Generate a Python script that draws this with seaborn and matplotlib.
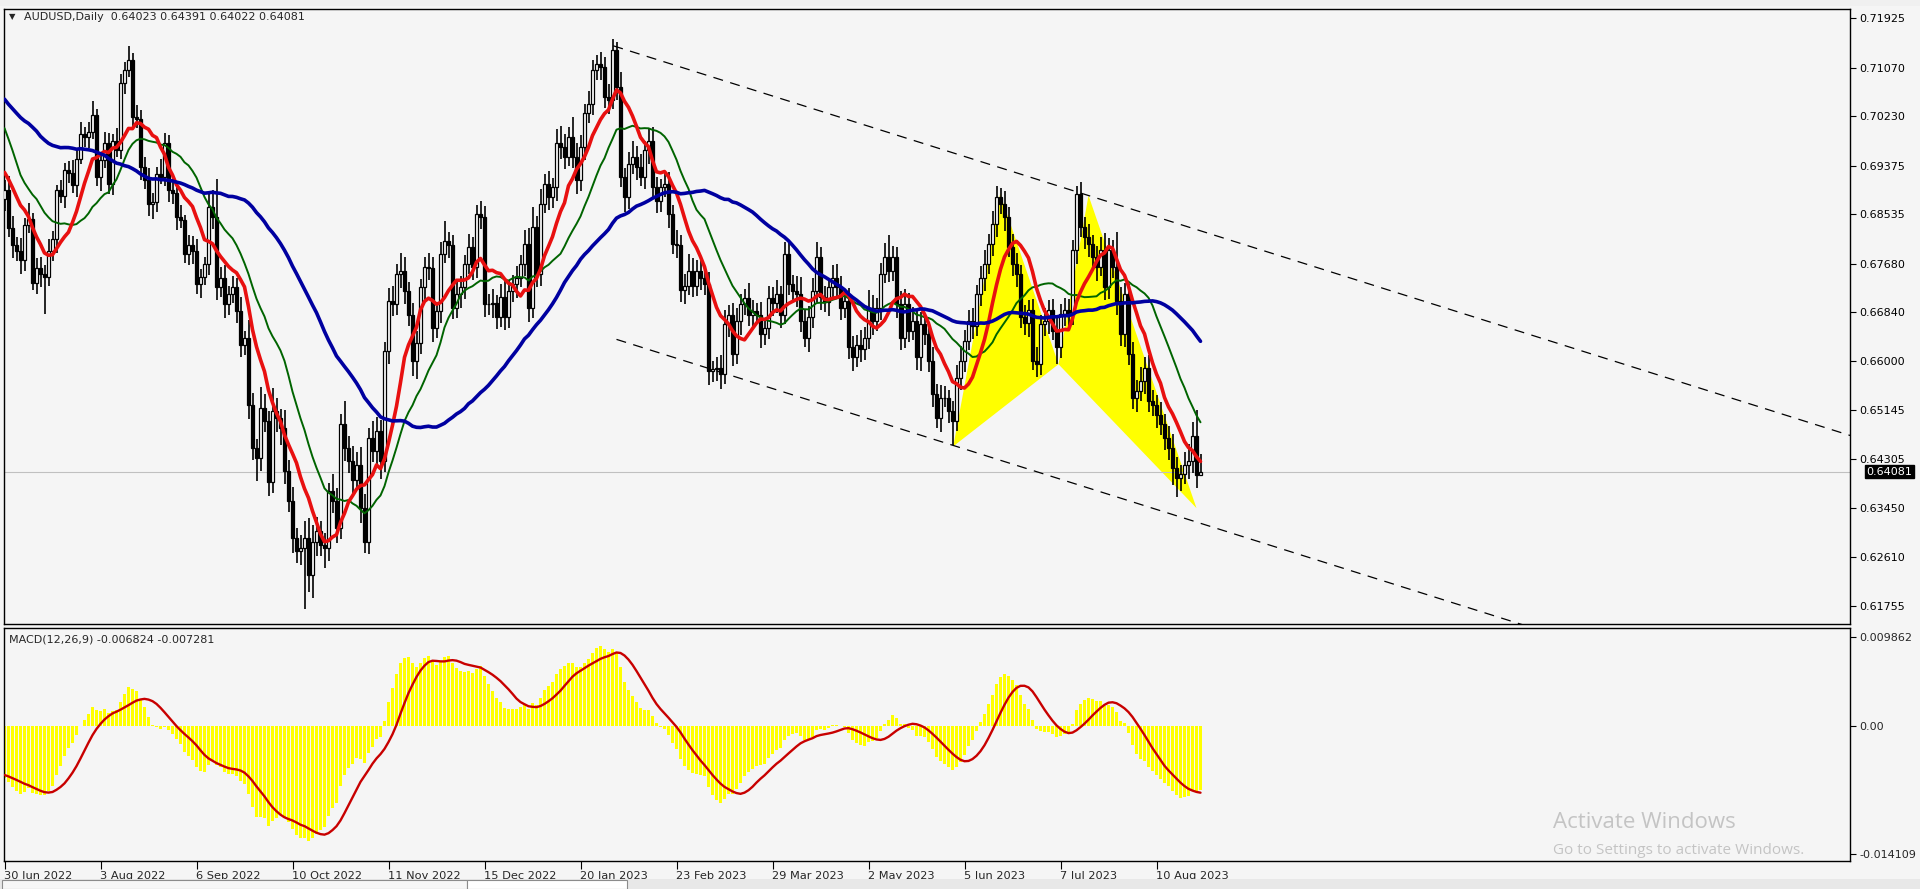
import numpy as np
import pandas as pd
import seaborn as sns
import matplotlib.pyplot as plt

# closes before the visible window (only feed the moving averages / MACD)
pre_closes = [0.7430, 0.7445, 0.7480, 0.7410, 0.7400, 0.7360, 0.7380, 0.7445, 0.7420, 0.7270,
              0.7190, 0.7170, 0.7150, 0.7130, 0.7065,
              0.7060, 0.7100, 0.7200, 0.7065, 0.7075, 0.6990, 0.7000, 0.6980, 0.6915, 0.6930,
              0.6960, 0.7035, 0.6950, 0.7035, 0.7040, 0.7095, 0.7060, 0.7080, 0.7110, 0.7165,
              0.7190, 0.7175,
              0.7160, 0.7240, 0.7205, 0.7195, 0.7220, 0.7195, 0.7105, 0.7055, 0.6935, 0.6910,
              0.6990, 0.6980, 0.6950, 0.6945, 0.6945, 0.6925, 0.6915, 0.6960, 0.6925, 0.6920,
              0.6880]

# daily closes, 30 Jun 2022 .. 25 Aug 2023
closes = [0.6895, 0.6830, 0.6800, 0.6790, 0.6775, 0.6835, 0.6845, 0.6735, 0.6760, 0.6750,
          0.6745, 0.6790, 0.6810, 0.6895, 0.6885, 0.6930, 0.6925, 0.6905, 0.6950, 0.6993,
          0.6988, 0.6995, 0.7025, 0.6918, 0.6947, 0.6976, 0.6906, 0.6981, 0.6964, 0.7080,
          0.7103, 0.7120, 0.7022, 0.7019, 0.6935, 0.6912, 0.6871, 0.6875, 0.6924, 0.6918,
          0.6976, 0.6895, 0.6890, 0.6848, 0.6843, 0.6785, 0.6800, 0.6790, 0.6733, 0.6745,
          0.6767, 0.6866, 0.6848, 0.6727, 0.6744, 0.6698, 0.6715, 0.6727, 0.6686, 0.6628,
          0.6640, 0.6524, 0.6449, 0.6432, 0.6519, 0.6495, 0.6391, 0.6513, 0.6501, 0.6484,
          0.6409, 0.6357, 0.6293, 0.6270, 0.6276, 0.6293, 0.6230, 0.6287, 0.6305, 0.6282,
          0.6276, 0.6374, 0.6357, 0.6310, 0.6490, 0.6449, 0.6426, 0.6394, 0.6420, 0.6345,
          0.6287, 0.6466, 0.6443, 0.6478, 0.6426, 0.6617, 0.6704, 0.6698, 0.6750, 0.6756,
          0.6721, 0.6680, 0.6599, 0.6630, 0.6727, 0.6762, 0.6760, 0.6657, 0.6686, 0.6785,
          0.6808, 0.6800, 0.6692, 0.6716, 0.6727, 0.6767, 0.6796, 0.6762, 0.6854, 0.6848,
          0.6698, 0.6698, 0.6700, 0.6675, 0.6710, 0.6675, 0.6721, 0.6733, 0.6744, 0.6767,
          0.6802, 0.6692, 0.6831, 0.6750, 0.6872, 0.6906, 0.6883, 0.6900, 0.6976, 0.6970,
          0.6953, 0.6987, 0.6953, 0.6912, 0.6970, 0.7028, 0.7045, 0.7103, 0.7114, 0.7108,
          0.7057, 0.7051, 0.7137, 0.7074, 0.6918, 0.6883, 0.6941, 0.6953, 0.6935, 0.6918,
          0.6964, 0.6981, 0.6900, 0.6877, 0.6900, 0.6906, 0.6854, 0.6802, 0.6800, 0.6722,
          0.6730, 0.6756, 0.6730, 0.6756, 0.6744, 0.6733, 0.6582, 0.6585, 0.6588, 0.6577,
          0.6663, 0.6680, 0.6611, 0.6669, 0.6698, 0.6709, 0.6680, 0.6686, 0.6680, 0.6646,
          0.6657, 0.6709, 0.6700, 0.6715, 0.6680, 0.6785, 0.6733, 0.6721, 0.6715, 0.6669,
          0.6640, 0.6675, 0.6721, 0.6779, 0.6710, 0.6702, 0.6727, 0.6744, 0.6727, 0.6692,
          0.6704, 0.6623, 0.6606, 0.6628, 0.6620, 0.6640, 0.6692, 0.6669, 0.6692, 0.6750,
          0.6779, 0.6756, 0.6779, 0.6698, 0.6640, 0.6698, 0.6652, 0.6669, 0.6606, 0.6663,
          0.6646, 0.6600, 0.6542, 0.6501, 0.6536, 0.6536, 0.6513, 0.6496, 0.6571, 0.6600,
          0.6634, 0.6669, 0.6660, 0.6715, 0.6744, 0.6767, 0.6802, 0.6837, 0.6883, 0.6872,
          0.6848, 0.6796, 0.6767, 0.6750, 0.6675, 0.6665, 0.6687, 0.6600, 0.6594, 0.6663,
          0.6669, 0.6687, 0.6652, 0.6623, 0.6681, 0.6687, 0.6680, 0.6791, 0.6889, 0.6831,
          0.6814, 0.6802, 0.6779, 0.6762, 0.6791, 0.6727, 0.6791, 0.6762, 0.6704, 0.6646,
          0.6715, 0.6611, 0.6536, 0.6547, 0.6565, 0.6588, 0.6530, 0.6524, 0.6507, 0.6490,
          0.6467, 0.6449, 0.6415, 0.6397, 0.6404, 0.6420, 0.6426, 0.6470, 0.6402, 0.64081]

# wick sizes in pips above / below the candle body
up_pips = [18, 25, 20, 15, 22, 12, 28, 10, 18, 20, 15, 20, 14, 10, 18, 12, 16, 22, 14, 20,
           12, 18, 24, 10, 15, 20, 18, 12, 22, 16, 14, 24, 12, 20, 15, 18, 22, 16, 12, 25,
           18, 15, 20, 14, 22, 10, 18, 16, 20, 14, 12, 26, 30, 67, 18, 22, 14, 20, 16, 25,
           12, 30, 20, 15, 35, 24, 18, 40, 22, 16, 30, 20, 25, 18, 22, 30, 35, 28, 24, 18,
           20, 15, 30, 22, 18, 40, 20, 26, 22, 30, 25, 18, 30, 24, 20, 15, 22, 26, 18, 30,
           24, 16, 20, 22, 14, 18, 25, 20, 16, 20, 34, 15, 18, 22, 20, 16, 24, 18, 15, 22,
           20, 18, 24, 14, 22, 30, 18, 15, 20, 16, 24, 28, 35, 20, 26, 18, 22, 16, 25, 30,
           22, 18, 35, 24, 20, 16, 22, 18, 15, 20, 18, 22, 20, 14, 25, 15, 20, 28, 18, 22,
           16, 20, 24, 18, 15, 22, 20, 16, 24, 18, 20, 28, 22, 18, 24, 16, 20, 15, 18, 22,
           24, 16, 20, 22, 18, 15, 26, 20, 14, 22, 16, 20, 18, 24, 15, 20, 22, 16, 25, 30,
           18, 20, 22, 26, 18, 20, 16, 22, 24, 20, 18, 22, 20, 16, 25, 18, 30, 22, 16, 20,
           24, 38, 20, 18, 22, 26, 20, 24, 18, 22, 20, 16, 24, 18, 22, 20, 14, 18, 22, 26,
           20, 18, 22, 16, 20, 24, 18, 22, 20, 16, 22, 18, 24, 20, 16, 22, 18, 20, 24, 16,
           22, 18, 20, 24, 18, 22, 20, 18, 14, 20, 18, 22, 16, 20, 24, 30, 22, 18, 60, 24,
           20, 18, 22, 20, 24, 18, 22, 20, 16, 22, 18, 20, 24, 18, 16, 22, 30, 24, 45, 31]
low_pips = [20, 15, 22, 18, 25, 20, 14, 12, 20, 22, 64, 15, 18, 24, 12, 20, 18, 15, 22, 10,
            18, 20, 12, 16, 25, 14, 18, 20, 12, 15, 18, 12, 20, 16, 22, 14, 20, 25, 18, 12,
            15, 20, 18, 22, 14, 16, 20, 22, 18, 25, 14, 18, 20, 22, 16, 24, 18, 15, 20, 22,
            18, 24, 20, 40, 22, 18, 25, 20, 24, 30, 22, 18, 25, 20, 24, 106, 30, 40, 24, 20,
            35, 22, 20, 26, 18, 22, 20, 24, 18, 25, 20, 22, 18, 24, 30, 18, 22, 20, 18, 24,
            22, 20, 25, 30, 18, 22, 20, 24, 18, 20, 16, 22, 20, 18, 24, 20, 16, 22, 18, 20,
            22, 18, 24, 20, 16, 22, 18, 20, 24, 16, 20, 25, 18, 22, 20, 16, 22, 18, 24, 20,
            22, 16, 20, 24, 18, 22, 16, 20, 18, 22, 20, 24, 16, 22, 18, 25, 20, 18, 22, 16,
            20, 24, 18, 22, 20, 16, 24, 18, 22, 20, 24, 16, 20, 18, 22, 20, 24, 18, 20, 25,
            18, 22, 20, 16, 24, 18, 20, 22, 16, 24, 18, 20, 22, 18, 24, 16, 20, 18, 22, 20,
            16, 24, 18, 20, 22, 18, 24, 16, 20, 22, 18, 20, 24, 16, 22, 18, 20, 24, 18, 22,
            16, 20, 18, 24, 22, 18, 20, 16, 22, 24, 18, 20, 22, 18, 24, 16, 20, 41, 18, 22,
            20, 16, 22, 18, 20, 24, 16, 20, 22, 18, 24, 16, 20, 22, 18, 20, 24, 16, 22, 18,
            20, 22, 16, 28, 18, 20, 22, 18, 24, 16, 20, 22, 18, 24, 16, 22, 20, 18, 24, 20,
            22, 18, 20, 24, 16, 22, 18, 20, 24, 18, 22, 20, 30, 32, 22, 18, 24, 20, 22, 0]

price_ticks = [0.71925, 0.71070, 0.70230, 0.69375, 0.68535, 0.67680, 0.66840,
               0.66000, 0.65145, 0.64305, 0.63450, 0.62610, 0.61755]
macd_ticks = [0.009862, 0.0, -0.014109]
macd_tick_labels = ["0.009862", "0.00", "-0.014109"]
date_labels = ["30 Jun 2022", "3 Aug 2022", "6 Sep 2022", "10 Oct 2022", "11 Nov 2022",
               "15 Dec 2022", "20 Jan 2023", "23 Feb 2023", "29 Mar 2023", "2 May 2023",
               "5 Jun 2023", "7 Jul 2023", "10 Aug 2023"]
closed_days = ["2022-12-26", "2023-01-02"]

# channel lines (bar index, price) and the yellow harmonic pattern
upper_x, upper_y = [152.2, 470.0], [0.7145, 0.6452]
lower_x, lower_y = [153.0, 470.0], [0.6637, 0.5946]
xab_x, xab_y = [237.2, 248.9, 263.5], [0.6452, 0.6889, 0.6594]
bcd_x, bcd_y = [263.5, 271.0, 298.0], [0.6594, 0.6886, 0.6345]

assert len(closes) == len(up_pips) == len(low_pips) == 300

# ---- derived series ----
n_pre = len(pre_closes)
allc = pd.Series(pre_closes + closes)
sma10 = allc.rolling(10).mean().iloc[n_pre:].to_numpy()
sma20 = allc.rolling(20).mean().iloc[n_pre:].to_numpy()
sma50 = allc.rolling(50).mean().iloc[n_pre:].to_numpy()
macd_all = allc.ewm(span=12, adjust=False).mean() - allc.ewm(span=26, adjust=False).mean()
signal_all = macd_all.rolling(9).mean()
macd = macd_all.iloc[n_pre:].to_numpy()
signal = signal_all.iloc[n_pre:].to_numpy()

c = np.array(closes)
o = np.array(pre_closes[-1:] + closes[:-1])
o[-1] = 0.64023
hi = np.maximum(o, c) + np.array(up_pips) * 0.0001
lo = np.minimum(o, c) - np.array(low_pips) * 0.0001
x = np.arange(len(c))

dates = pd.bdate_range("2022-06-30", periods=len(c), freq="C", holidays=closed_days)
tick_idx = [dates.get_loc(pd.Timestamp(d)) for d in date_labels]

# ---- figure ----
sns.set_theme(style="white")
plt.rcParams["font.family"] = ["DejaVu Sans"]

W, H = 1920, 889
fig = plt.figure(figsize=(19.2, 8.89), dpi=100, facecolor="#f5f5f5")


def rect(l, t, r, b):
    return [l / W, 1 - b / H, (r - l) / W, (b - t) / H]


ax1 = fig.add_axes(rect(4, 9, 1850, 624))
ax2 = fig.add_axes(rect(4, 628, 1850, 861))
for ax in (ax1, ax2):
    ax.set_facecolor("#f5f5f5")
    for s in ax.spines.values():
        s.set_color("black")
        s.set_linewidth(1.0)
    ax.set_xlim(-0.125, 461.375)

# main price panel
ax1.fill(xab_x, xab_y, color="#ffff00", lw=0, zorder=1)
ax1.fill(bcd_x, bcd_y, color="#ffff00", lw=0, zorder=1)
ax1.axhline(closes[-1], color="#c0c0c0", lw=0.8, zorder=1.5)
ax1.plot(upper_x, upper_y, color="black", lw=0.9, ls=(0, (8, 6)), zorder=2)
ax1.plot(lower_x, lower_y, color="black", lw=0.9, ls=(0, (8, 6)), zorder=2)

ax1.vlines(x, lo, hi, color="black", lw=1.2, zorder=3)
body_h = np.maximum(np.abs(c - o), 0.00004)
body_b = np.minimum(o, c)
body_col = np.where(c >= o, "white", "black")
ax1.bar(x, body_h, bottom=body_b, width=0.7, color=body_col, edgecolor="black",
        linewidth=0.9, zorder=4)

sns.lineplot(x=x, y=sma20, ax=ax1, color="#006400", lw=1.4, zorder=5)
sns.lineplot(x=x, y=sma10, ax=ax1, color="#e81010", lw=2.6, zorder=6)
sns.lineplot(x=x, y=sma50, ax=ax1, color="#0000a0", lw=2.6, zorder=6)

ax1.set_ylim(0.61445, 0.72087)
ax1.set_xticks([])
ax1.yaxis.tick_right()
ax1.set_yticks(price_ticks)
ax1.set_yticklabels([f"{p:.5f}" for p in price_ticks])
ax1.tick_params(axis="y", right=True, length=4, width=0.8, color="black",
                labelsize=8, pad=3, labelcolor="black")
ax1.set_xlabel("")
ax1.set_ylabel("")
ax1.annotate(f"{closes[-1]:.5f}", xy=(1.0, closes[-1]), xycoords=("axes fraction", "data"),
             xytext=(12, 0), textcoords="offset points", va="center", ha="left",
             fontsize=8, color="white",
             bbox=dict(boxstyle="square,pad=0.12", fc="black", ec="black"))

# MACD panel
ax2.bar(x, macd, width=0.8, color="#ffff00", lw=0, zorder=2)
sns.lineplot(x=x, y=signal, ax=ax2, color="#c80000", lw=1.7, zorder=3)
ax2.set_ylim(-0.014938, 0.010824)
ax2.yaxis.tick_right()
ax2.set_yticks(macd_ticks)
ax2.set_yticklabels(macd_tick_labels)
ax2.tick_params(axis="y", right=True, length=4, width=0.8, color="black",
                labelsize=8, pad=3)
ax2.set_xticks(tick_idx)
ax2.set_xticklabels(date_labels)
ax2.tick_params(axis="x", bottom=True, length=6, width=0.8, color="black",
                labelsize=8.2, pad=1)
for lab in ax2.get_xticklabels():
    lab.set_ha("left")
ax2.set_xlabel("")
ax2.set_ylabel("")

# header texts
fig.text(9 / W, 1 - 17 / H, "\u25bc", fontsize=6, va="center", ha="left")
fig.text(24 / W, 1 - 17 / H, "AUDUSD,Daily  0.64023 0.64391 0.64022 0.64081",
         fontsize=8, va="center", ha="left")
fig.text(9 / W, 1 - 639 / H, "MACD(12,26,9) -0.006824 -0.007281",
         fontsize=8, va="center", ha="left")

# top toolbar strip and bottom tab bar
fig.add_artist(plt.Rectangle((0, 1 - 6 / H), 1, 6 / H, transform=fig.transFigure,
                             fc="#f0f0f0", ec="none"))
fig.add_artist(plt.Rectangle((0, 0), 1, 10 / H, transform=fig.transFigure,
                             fc="#e8e8e8", ec="none"))
fig.add_artist(plt.Rectangle((2 / W, 0), 465 / W, 9 / H, transform=fig.transFigure,
                             fc="#f7f7f7", ec="#8c8c8c", lw=0.8))
fig.add_artist(plt.Rectangle((467 / W, 0), 160 / W, 9 / H, transform=fig.transFigure,
                             fc="white", ec="#8c8c8c", lw=0.8))

# watermark
fig.text(1553 / W, 1 - 822 / H, "Activate Windows", fontsize=16, color="#c4c4c4",
         va="center", ha="left", family=["Open Sans", "DejaVu Sans"])
fig.text(1553 / W, 1 - 851 / H, "Go to Settings to activate Windows.", fontsize=11,
         color="#c4c4c4", va="center", ha="left", family=["Open Sans", "DejaVu Sans"])

plt.savefig("out.png", dpi=100, facecolor=fig.get_facecolor())
